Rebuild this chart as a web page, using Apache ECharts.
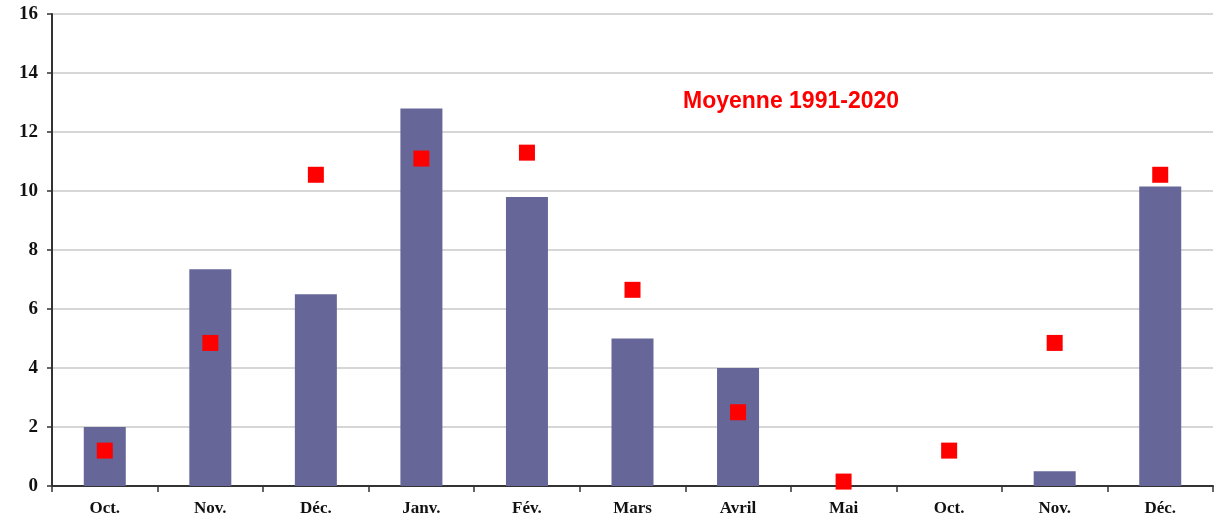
<!DOCTYPE html>
<html>
<head>
<meta charset="utf-8">
<script src="https://cdn.jsdelivr.net/npm/echarts@6/dist/echarts.min.js"></script>
<style>
    html, body { margin: 0; padding: 0; background: #fff; }
    #chart { width: 1216px; height: 521px; }
</style>
</head>
<body>
<div id="chart"></div>
<script>
    // mois de la saison
    var months = ['Oct.', 'Nov.', 'Déc.', 'Janv.', 'Fév.', 'Mars', 'Avril', 'Mai', 'Oct.', 'Nov.', 'Déc.'];
    // valeurs mesurées
    var measured = [2.0, 7.35, 6.5, 12.8, 9.8, 5.0, 4.0, 0, 0, 0.5, 10.15];
    // moyenne 1991-2020
    var normals = [1.2, 4.85, 10.55, 11.1, 11.3, 6.65, 2.5, 0.15, 1.2, 4.85, 10.55];
    var yTicks = [0, 2, 4, 6, 8, 10, 12, 14, 16];

    var myChart = echarts.init(document.getElementById('chart'));
    var option = {
        animation: false,
        grid: {
            left: 52,
            right: 3,
            top: 14,
            bottom: 35
        },
        graphic: [{
            type: 'text',
            left: 683,
            top: 90,
            style: {
                text: 'Moyenne 1991-2020',
                fill: '#ff0000',
                font: 'bold 23px "Liberation Sans", Arial, sans-serif'
            }
        }],
        xAxis: {
            type: 'category',
            data: months,
            axisLine: { lineStyle: { color: '#333', width: 2 } },
            axisTick: { show: true, length: 6, lineStyle: { color: '#333', width: 1.5 } },
            axisLabel: {
                margin: 14,
                color: '#111',
                fontFamily: '"Liberation Serif", "Times New Roman", serif',
                fontWeight: 'bold',
                fontSize: 17
            }
        },
        yAxis: {
            type: 'value',
            min: yTicks[0],
            max: yTicks[yTicks.length - 1],
            interval: 2,
            axisLine: { show: true, lineStyle: { color: '#333', width: 2 } },
            axisTick: { show: true, length: 5, lineStyle: { color: '#333', width: 1.5 } },
            splitLine: { lineStyle: { color: '#c8c8c8', width: 1.5 } },
            axisLabel: {
                margin: 14,
                color: '#111',
                fontFamily: '"Liberation Serif", "Times New Roman", serif',
                fontWeight: 'bold',
                fontSize: 19
            }
        },
        series: [
            {
                name: 'Mesures',
                type: 'bar',
                data: measured,
                barWidth: 42,
                itemStyle: { color: '#666699' }
            },
            {
                name: 'Moyenne 1991-2020',
                type: 'scatter',
                data: normals,
                symbol: 'rect',
                symbolSize: 16,
                itemStyle: { color: '#ff0000', opacity: 1 },
                z: 5
            }
        ]
    };
    if (option && typeof option === "object") {
        myChart.setOption(option, true);
    }
</script>
</body>
</html>
